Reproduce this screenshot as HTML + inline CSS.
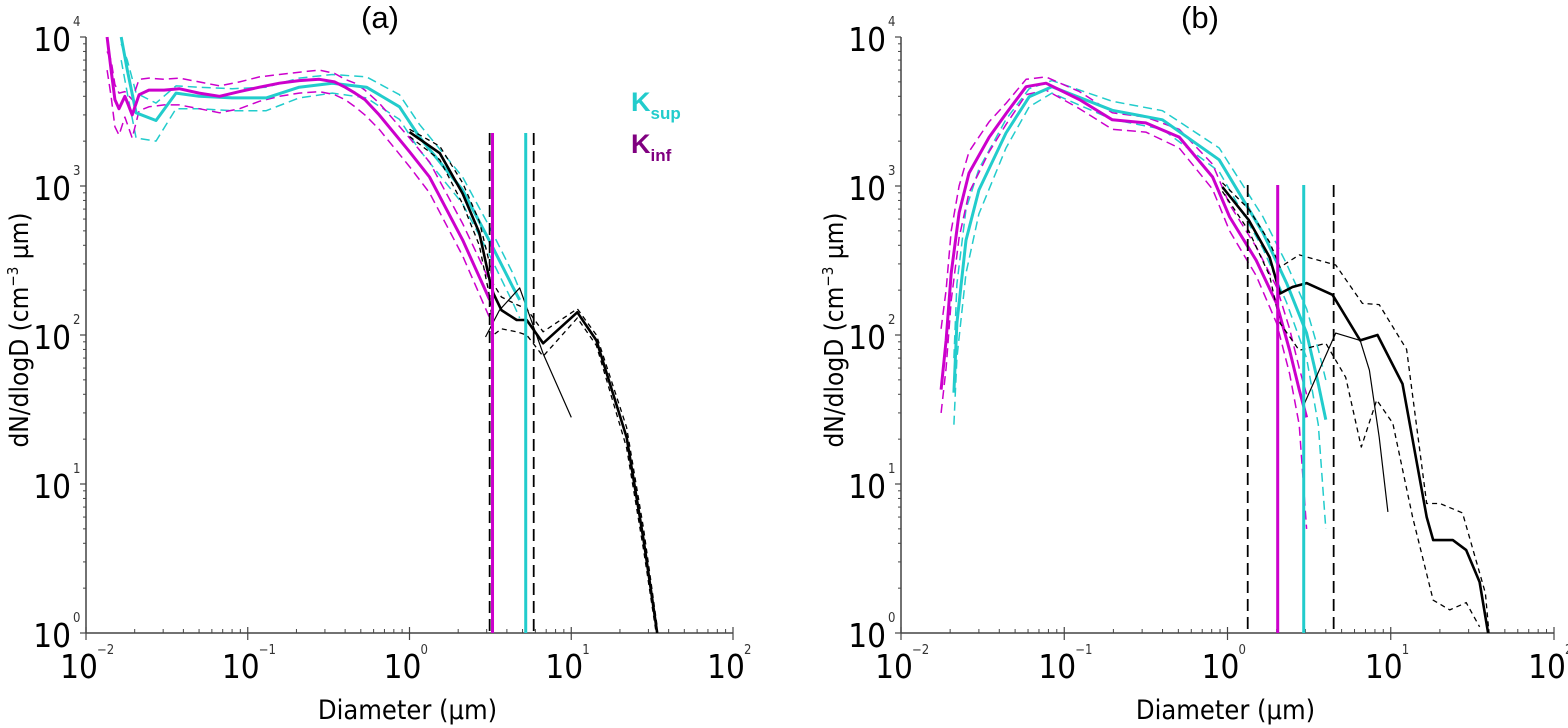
<!DOCTYPE html>
<html><head><meta charset="utf-8"><style>
html,body{margin:0;padding:0;background:#fff;}
svg{display:block;font-family:"DejaVu Sans Condensed","DejaVu Sans","Liberation Sans",sans-serif;}
</style></head><body>
<svg id="fig" width="1568" height="728" viewBox="0 0 1568 728" xmlns="http://www.w3.org/2000/svg">
<defs>
<clipPath id="clipA"><rect x="86" y="30" width="648" height="603"/></clipPath>
<clipPath id="clipB"><rect x="901" y="30" width="655" height="603"/></clipPath>
</defs>
<g id="panelA"></g>
<g id="panelB"></g>
<text x="380" y="28" font-family="Liberation Sans, sans-serif" font-size="31" text-anchor="middle">(a)</text>
<text x="1200" y="28" font-family="Liberation Sans, sans-serif" font-size="31" text-anchor="middle">(b)</text>
<g font-family="Liberation Sans, sans-serif" font-weight="bold">
<text x="631" y="111" font-size="27" fill="#22cccc">K<tspan font-size="17" dy="8">sup</tspan></text>
<text x="631" y="153" font-size="27" fill="#800080">K<tspan font-size="17" dy="8">inf</tspan></text>
</g>
</svg>
<script>
// ---------- Panel (a) data ----------
const aMagD   = [0.0135,0.0143,0.0151,0.016,0.0174,0.0193,0.0213,0.0245,0.0304,0.0377,0.05,0.067,0.089,0.118,0.157,0.208,0.277,0.344,0.40,0.46,0.53,0.65,1.0,1.33,2.13,3.13];
const aMagN   = [10000,6000,3800,3300,4000,3000,4100,4400,4400,4500,4200,4000,4300,4600,4900,5100,5200,5000,4600,4200,3800,3000,1700,1150,435,172];
const aMagHi  = [8000,7000,4800,4200,4300,3800,5200,5300,5200,5300,5000,4700,5000,5400,5600,5800,6000,5700,5200,4900,4400,3600,2100,1450,560,230];
const aMagLo  = [6000,4000,2500,2200,2900,2100,3200,3400,3500,3500,3300,3100,3300,3700,4000,4200,4300,4100,3800,3400,3000,2400,1350,900,340,130];
const aCyaD   = [0.0165,0.018,0.0204,0.0271,0.036,0.05,0.08,0.13,0.208,0.333,0.542,0.867,1.15,2.13,3.1,4.35,4.8];
const aCyaN   = [10000,6000,3100,2750,4200,4000,3900,3900,4600,4900,4600,3400,2140,940,435,210,172];
const aCyaHi  = [9000,7000,4200,3600,4700,4600,4500,4600,5300,5600,5400,4100,2600,1150,540,260,200];
const aCyaLo  = [7000,4200,2100,2000,3300,3300,3200,3200,3900,4200,3900,2800,1750,760,350,165,130];
const aBlkD   = [1.0,1.54,2.13,2.7,3.13,3.3,3.7,4.6,5.3,6.7,10.9,14.3,22,28,34];
const aBlkN   = [2300,1660,890,485,233,190,147,126,126,88,142,92,20.6,4.2,1];
const aBlkHi  = [2400,1850,1050,580,300,220,180,160,150,105,150,100,24,5,1.1];
const aBlkLo  = [2150,1500,760,400,180,100,110,105,100,72,130,85,17.5,3.6,0.9];
const aThinD  = [2.95,3.6,4.8,6.7,10];
const aThinN  = [97,147,207,75,28];
const aVDash  = [3.13,5.86];
const aVMag   = [3.26];
const aVCya   = [5.23];
const aVTop   = 2270;
// ---------- Panel (b) data ----------
const bMagD   = [0.0176,0.0189,0.0203,0.0227,0.0261,0.0347,0.0441,0.0584,0.0773,0.124,0.197,0.316,0.506,0.81,1.03,1.5,2.0,2.4,2.75,3.05];
const bMagN   = [43,92,260,660,1220,2130,3070,4640,4900,3800,2780,2650,2130,1150,620,317,163,79,43,28];
const bMagHi  = [110,200,500,1000,1700,2700,3600,5200,5400,4300,3100,2900,2400,1400,750,390,210,110,60,40];
const bMagLo  = [30,60,170,450,900,1700,2600,4100,4400,3300,2400,2300,1800,950,500,250,120,55,25,5];
const bCyaD   = [0.0211,0.022,0.025,0.030,0.044,0.061,0.084,0.197,0.40,0.89,1.65,2.3,3.05,3.6,4.0];
const bCyaN   = [41,120,433,940,2270,3970,4640,3220,2780,1500,485,223,103,47,27];
const bCyaHi  = [70,220,700,1300,2800,4500,5100,3700,3200,1800,620,300,150,80,50];
const bCyaLo  = [25,70,260,650,1800,3400,4200,2800,2400,1250,380,165,70,25,5];
const bBlkD   = [0.93,1.35,1.81,2.1,2.5,3.05,4.4,6.5,8.3,11.8,16.6,18.2,24,29,35,39.5];
const bBlkN   = [985,590,333,190,210,223,186,92,100,47,6,4.2,4.2,3.6,2.2,1];
const bHiD    = [0.93,1.35,1.81,2.1,2.75,4.6,6.7,8.5,12.5,16.6,20,27.5,38,40];
const bHiN    = [1050,700,420,285,345,295,163,160,80,7.4,7.4,6.4,1.85,1];
const bLoD    = [0.93,1.35,1.81,2.1,2.75,4.0,5.3,6.6,8.2,10.3,13.6,18.2,23,29,35];
const bLoN    = [920,500,250,120,79,88,52,17.7,36.6,25.6,6,1.66,1.43,1.6,1.1];
const bThinD  = [2.9,4.6,6.5,7.4,8.5,9.6];
const bThinN  = [33,103,92,58,20.6,6.5];
const bVDash  = [1.33,4.47];
const bVMag   = [2.03];
const bVCya   = [2.93];
const bVTop   = 1015;
// ---------- Axis ticks ----------
const xExps = [-2,-1,0,1,2];
const yExps = [0,1,2,3,4];

const NS = "http://www.w3.org/2000/svg";
function mk(tag, attrs, parent){
  const e = document.createElementNS(NS, tag);
  for (const k in attrs) e.setAttribute(k, attrs[k]);
  parent.appendChild(e);
  return e;
}
const MAG = "#cc00cc", CYA = "#22cccc";

function panel(g, cfg){
  const x = d => cfg.x0 + (Math.log10(d) + 2) * cfg.dec;
  const y = n => 633 - Math.log10(n) * 149;
  const ax = mk('g', {}, g);
  
  
  // axis lines
  const xl = mk('line', {x1:cfg.x0, y1:633, x2:cfg.x0+4*cfg.dec, y2:633, stroke:'#444', 'stroke-width':1.5}, ax);
  
  
  const yl = mk('line', {x1:cfg.x0, y1:37, x2:cfg.x0, y2:633, stroke:'#444', 'stroke-width':1.5}, ax);
  
  
  // x ticks
  for (let i = 0; i < xExps.length; i++){
    const e = xExps[i];
    const px = x(Math.pow(10, e));
    mk('line', {x1:px, y1:627, x2:px, y2:640, stroke:'#444', 'stroke-width':1.2}, ax);
    const t = mk('text', {x:px-7, y:678, 'font-size':33, 'text-anchor':'middle'}, ax);
    
    
    t.textContent = '10';
    const s = mk('text', {x:px+11, y:654, 'font-size':13, fill:'#333'}, ax);
    s.textContent = String(e).replace('-', '\u2212');
    if (i < xExps.length-1){
      for (let m = 2; m <= 9; m++){
        const mx = x(m*Math.pow(10, e));
        mk('line', {x1:mx, y1:629, x2:mx, y2:633, stroke:'#444', 'stroke-width':1}, ax);
      }
    }
  }
  // y ticks
  for (let i = 0; i < yExps.length; i++){
    const e = yExps[i];
    const py = y(Math.pow(10, e));
    mk('line', {x1:cfg.x0-6, y1:py, x2:cfg.x0, y2:py, stroke:'#444', 'stroke-width':1.2}, ax);
    const t = mk('text', {x:cfg.x0-15, y:py+14, 'font-size':33, 'text-anchor':'end'}, ax);
    
    
    t.textContent = '10';
    const s = mk('text', {x:cfg.x0-13, y:py-11, 'font-size':13, fill:'#333'}, ax);
    s.textContent = String(e);
    if (i < yExps.length-1){
      for (let m = 2; m <= 9; m++){
        const my = y(m*Math.pow(10, e));
        mk('line', {x1:cfg.x0-3, y1:my, x2:cfg.x0, y2:my, stroke:'#444', 'stroke-width':1}, ax);
      }
    }
  }
  // titles
  const xt = mk('text', {x:cfg.x0+2*cfg.dec-2, y:719, 'font-size':27, 'text-anchor':'middle'}, ax);
  
  
  xt.textContent = 'Diameter (\u00b5m)';
  const yt = mk('text', {x:0, y:0, 'font-size':26, 'text-anchor':'middle', transform:'translate('+(cfg.x0-58)+',330) rotate(-90)'}, ax);
  
  
  yt.innerHTML = 'dN/dlogD (cm<tspan font-size="15" dy="-10">\u22123</tspan><tspan dy="10"> \u00b5m)</tspan>';

  const plot = mk('g', {'clip-path':'url(#'+cfg.clip+')'}, g);
  
  
  function line(D, N, stroke, w, dash, name){
    let d = '';
    for (let i = 0; i < D.length; i++) d += (i ? 'L' : 'M') + x(D[i]).toFixed(1) + ',' + y(N[i]).toFixed(1);
    const p = mk('path', {d:d, fill:'none', stroke:stroke, 'stroke-width':w, 'stroke-linejoin':'round'}, plot);
    if (dash) p.setAttribute('stroke-dasharray', dash);
    
    
  }
  function vline(D, stroke, w, dash, name){
    const px = x(D);
    const l = mk('line', {x1:px, y1:y(cfg.vTop), x2:px, y2:633, stroke:stroke, 'stroke-width':w}, plot);
    if (dash) l.setAttribute('stroke-dasharray', dash);
    
    
  }
  const s = cfg.s;
  line(s.cyaD, s.cyaHi, CYA, 1.5, '9,5', 'k-sup-upper-bound');
  line(s.cyaD, s.cyaLo, CYA, 1.5, '9,5', 'k-sup-lower-bound');
  line(s.magD, s.magHi, MAG, 1.5, '9,5', 'k-inf-upper-bound');
  line(s.magD, s.magLo, MAG, 1.5, '9,5', 'k-inf-lower-bound');
  line(s.cyaD, s.cyaN, CYA, 3, null, 'k-sup-line');
  line(s.magD, s.magN, MAG, 3, null, 'k-inf-line');
  line(s.hiD, s.hiN, '#000', 1.3, '5,4', 'measured-upper-bound');
  line(s.loD, s.loN, '#000', 1.3, '5,4', 'measured-lower-bound');
  line(s.thinD, s.thinN, '#000', 1.2, null, 'secondary-measured-line');
  line(s.blkD, s.blkN, '#000', 2.6, null, 'measured-line');
  for (const v of cfg.vDash) vline(v, '#000', 1.8, '12,6', 'cutoff-dashed-line');
  for (const v of cfg.vMag) vline(v, MAG, 3, null, 'k-inf-cutoff-line');
  for (const v of cfg.vCya) vline(v, CYA, 3, null, 'k-sup-cutoff-line');
}

panel(document.getElementById('panelA'), {x0:86, dec:161.75, clip:'clipA', vTop:aVTop, vDash:aVDash, vMag:aVMag, vCya:aVCya,
  s:{magD:aMagD, magN:aMagN, magHi:aMagHi, magLo:aMagLo, cyaD:aCyaD, cyaN:aCyaN, cyaHi:aCyaHi, cyaLo:aCyaLo,
     blkD:aBlkD, blkN:aBlkN, hiD:aBlkD, hiN:aBlkHi, loD:aBlkD, loN:aBlkLo, thinD:aThinD, thinN:aThinN}});
panel(document.getElementById('panelB'), {x0:901, dec:163.25, clip:'clipB', vTop:bVTop, vDash:bVDash, vMag:bVMag, vCya:bVCya,
  s:{magD:bMagD, magN:bMagN, magHi:bMagHi, magLo:bMagLo, cyaD:bCyaD, cyaN:bCyaN, cyaHi:bCyaHi, cyaLo:bCyaLo,
     blkD:bBlkD, blkN:bBlkN, hiD:bHiD, hiN:bHiN, loD:bLoD, loN:bLoN, thinD:bThinD, thinN:bThinN}});
</script>
</body></html>
